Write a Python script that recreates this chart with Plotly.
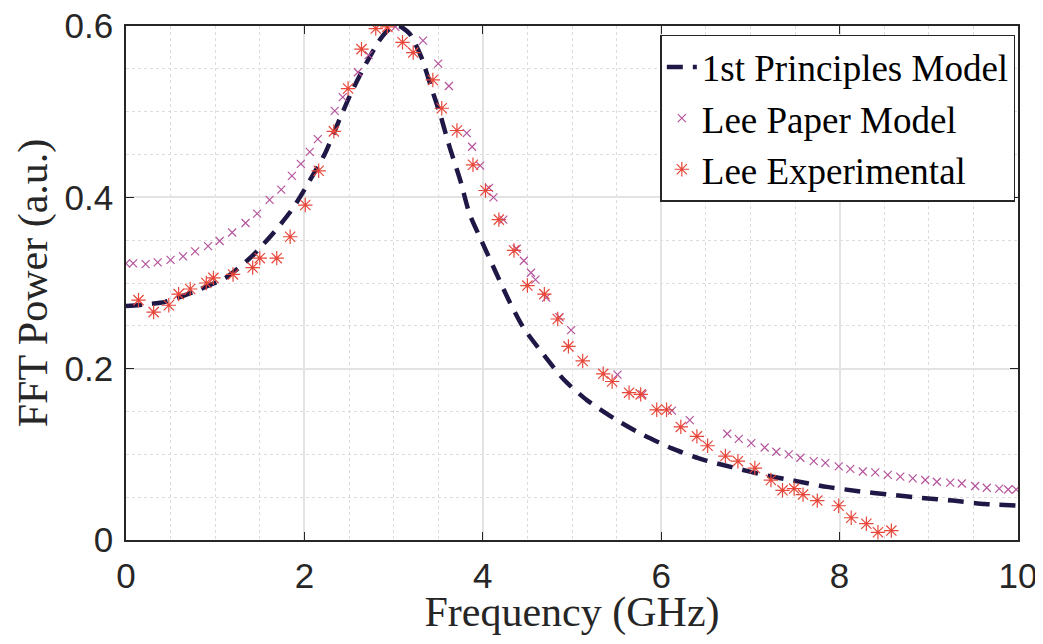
import plotly.graph_objects as go

# 1st Principles Model (sampled from the curve)
model_f = [0.0, 0.44, 0.79, 1.13, 1.41, 1.65, 1.87, 2.04, 2.23, 2.39, 2.52, 2.67, 2.84, 2.95, 3.06,
           3.18, 3.31, 3.42, 3.53, 3.63, 3.75, 3.85, 4.00, 4.30, 4.46, 4.67, 4.91, 5.17, 5.47,
           5.79, 6.12, 6.46, 6.79, 7.15, 7.50, 7.86, 8.21, 8.56, 8.92, 9.27, 9.63, 10.0]
model_p = [0.273, 0.278, 0.291, 0.307, 0.331, 0.358, 0.387, 0.416, 0.451, 0.490, 0.521, 0.552, 0.583, 0.596, 0.600,
           0.591, 0.564, 0.529, 0.494, 0.458, 0.419, 0.381, 0.346, 0.278, 0.247, 0.218, 0.187, 0.163, 0.142,
           0.123, 0.107, 0.094, 0.085, 0.076, 0.069, 0.062, 0.057, 0.053, 0.049, 0.046, 0.042, 0.040]

# Lee Paper Model
paper_f = [0.0, 0.08, 0.22, 0.355, 0.50, 0.64, 0.775, 0.92, 1.05, 1.19, 1.34, 1.47, 1.61, 1.74, 1.86,
           1.96, 2.06, 2.15, 2.34, 2.43, 2.60, 2.72, 3.02, 3.33, 3.50, 3.62, 3.82, 3.88, 3.97, 4.07,
           4.12, 4.23, 4.38, 4.46, 4.54, 4.59, 4.71, 4.86, 4.99, 5.51, 5.79, 6.12, 6.32, 6.74, 6.87,
           7.01, 7.16, 7.29, 7.43, 7.56, 7.71, 7.84, 7.99, 8.12, 8.26, 8.40, 8.54, 8.68, 8.82, 8.96,
           9.09, 9.24, 9.37, 9.52, 9.65, 9.79, 9.89, 9.98]
paper_p = [0.323, 0.323, 0.322, 0.324, 0.327, 0.331, 0.337, 0.343, 0.349, 0.359, 0.370, 0.381, 0.397, 0.409, 0.425,
           0.439, 0.453, 0.468, 0.501, 0.517, 0.546, 0.566, 0.599, 0.583, 0.556, 0.530, 0.475, 0.459, 0.437, 0.411,
           0.400, 0.374, 0.340, 0.326, 0.312, 0.304, 0.283, 0.260, 0.245, 0.193, 0.170, 0.151, 0.140, 0.124, 0.118,
           0.113, 0.108, 0.103, 0.100, 0.096, 0.092, 0.090, 0.086, 0.083, 0.080, 0.079, 0.076, 0.074, 0.072, 0.070,
           0.068, 0.067, 0.066, 0.063, 0.061, 0.060, 0.059, 0.059]

# Lee Experimental
exp_f = [0.14, 0.31, 0.48, 0.59, 0.72, 0.90, 0.98, 1.20, 1.42, 1.50, 1.69, 1.84, 2.01, 2.16, 2.33,
         2.49, 2.64, 2.80, 2.93, 3.10, 3.22, 3.44, 3.54, 3.71, 3.89, 4.03, 4.18, 4.35, 4.50, 4.69,
         4.84, 4.96, 5.12, 5.35, 5.45, 5.64, 5.77, 5.95, 6.06, 6.22, 6.40, 6.52, 6.72, 6.86, 7.05,
         7.23, 7.36, 7.49, 7.59, 7.75, 7.99, 8.13, 8.30, 8.43, 8.58]
exp_p = [0.280, 0.266, 0.274, 0.287, 0.293, 0.300, 0.306, 0.310, 0.318, 0.329, 0.329, 0.354, 0.391, 0.431, 0.477,
         0.527, 0.573, 0.597, 0.599, 0.581, 0.569, 0.537, 0.504, 0.478, 0.438, 0.408, 0.374, 0.338, 0.297, 0.287,
         0.258, 0.226, 0.209, 0.194, 0.185, 0.172, 0.170, 0.152, 0.152, 0.132, 0.121, 0.110, 0.098, 0.092, 0.084,
         0.070, 0.058, 0.060, 0.053, 0.046, 0.040, 0.026, 0.019, 0.009, 0.011]

x_ticks = [0, 2, 4, 6, 8, 10]
y_ticks = [0, 0.2, 0.4, 0.6]

SERIF = "Liberation Serif"
SANS = "Liberation Sans"

fig = go.Figure()
fig.add_trace(go.Scatter(
    x=model_f, y=model_p, mode="lines", name="1st Principles Model",
    line=dict(color="#1f1746", width=4.5, dash="16px,10px", shape="spline", smoothing=0.6),
))
fig.add_trace(go.Scatter(
    x=paper_f, y=paper_p, mode="markers", name="Lee Paper Model",
    marker=dict(symbol="x-thin-open", size=8, color="#b5549c", line=dict(width=1.2, color="#b5549c")),
))
fig.add_trace(go.Scatter(
    x=exp_f, y=exp_p, mode="markers", name="Lee Experimental",
    marker=dict(symbol="asterisk-open", size=12, color="#e8473b", line=dict(width=1.2, color="#e8473b")),
))

axis_common = dict(
    showline=True, linecolor="#262626", linewidth=1.5, mirror="ticks",
    ticks="inside", ticklen=8, tickwidth=1.2, tickcolor="#262626",
    showgrid=True, gridcolor="#e3e3e3", gridwidth=1.5,
    zeroline=False, automargin=False, ticklabeloverflow="allow",
    tickfont=dict(family=SANS, size=35, color="#262626"),
)

fig.update_xaxes(
    range=[0, 10], tickvals=x_ticks, ticktext=[str(v) for v in x_ticks],
    minor=dict(dtick=0.5, showgrid=True, gridcolor="#dcdcdc", griddash="dot", gridwidth=1, ticks=""),
    title=dict(text="Frequency (GHz)", font=dict(family=SERIF, size=42, color="#262626"), standoff=3),
    ticklabelstandoff=4,
    **axis_common,
)
fig.update_yaxes(
    range=[0, 0.6], tickvals=y_ticks, ticktext=["0", "0.2", "0.4", "0.6"],
    minor=dict(dtick=0.05, showgrid=True, gridcolor="#dcdcdc", griddash="dot", gridwidth=1, ticks=""),
    title=dict(text="FFT Power (a.u.)", font=dict(family=SERIF, size=42, color="#262626"), standoff=4),
    ticklabelstandoff=4,
    **axis_common,
)

# the page adds an 8px body margin, so the figure is sized/offset to fit inside it
fig.update_layout(
    width=1027, height=628,
    margin=dict(l=118, r=17, t=18, b=96),
    paper_bgcolor="white", plot_bgcolor="white",
    showlegend=True,
    legend=dict(
        x=0.997, y=0.9825, xanchor="right", yanchor="top",
        bgcolor="white", bordercolor="#262626", borderwidth=1.5,
        font=dict(family=SERIF, size=37, color="black"),
        tracegroupgap=0, itemwidth=30,
    ),
)

fig.write_html("out.html", default_width="1027px", default_height="628px")
